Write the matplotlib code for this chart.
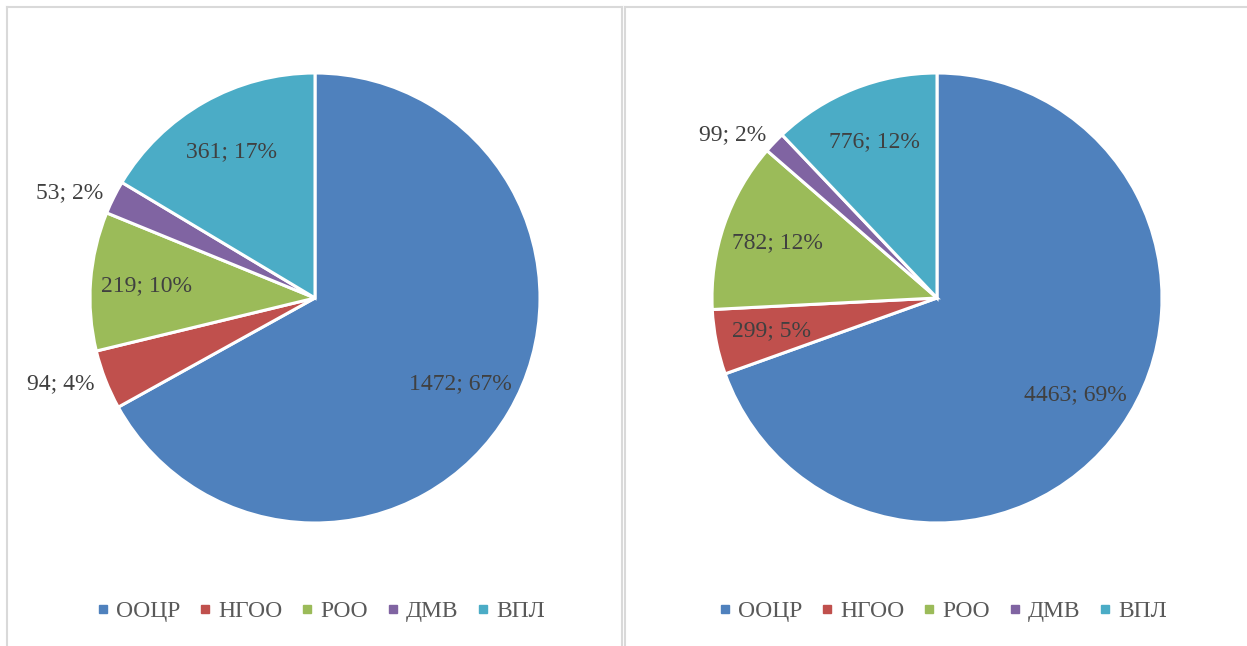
import numpy as np
import matplotlib
matplotlib.use("Agg")
import matplotlib.pyplot as plt
from matplotlib.lines import Line2D

plt.rcParams["font.family"] = ["Liberation Serif", "DejaVu Serif"]

# Data
categories = ["ООЦР", "НГОО", "РОО", "ДМВ", "ВПЛ"]
left_values = [1472, 94, 219, 53, 361]
left_pct = [67, 4, 10, 2, 17]
right_values = [4463, 299, 782, 99, 776]
right_pct = [69, 5, 12, 2, 12]

colors = ["#4F81BD", "#C0504D", "#9BBB59", "#8064A2", "#4BACC6"]
label_color = "#404040"
legend_color = "#595959"
border_color = "#D9D9D9"

W, H = 1247, 646
fig = plt.figure(figsize=(W / 100, H / 100), dpi=100)
fig.patch.set_facecolor("white")


def px_x(x):
    return x / W


def px_y(y):
    return 1 - y / H


def draw_pie(cx, cy, r, values, pct):
    ax = fig.add_axes([px_x(cx - r), px_y(cy + r), 2 * r / W, 2 * r / H])
    wedges, _ = ax.pie(
        values,
        colors=colors,
        startangle=90,
        counterclock=False,
        radius=1,
        wedgeprops=dict(edgecolor="white", linewidth=2.2),
    )
    ax.set_xlim(-1, 1)
    ax.set_ylim(-1, 1)
    ax.set_aspect("equal")
    ax.axis("off")

    total = sum(values)
    for w, v, p in zip(wedges, values, pct):
        mid = np.deg2rad((w.theta1 + w.theta2) / 2)
        if v / total >= 0.045:
            # inside label
            ax.text(0.75 * np.cos(mid), 0.75 * np.sin(mid), f"{v}; {p}%",
                    ha="center", va="center", fontsize=17, color=label_color)
        else:
            # small slice: label just outside the rim
            ha = "right" if np.cos(mid) < 0 else "left"
            ax.text(1.05 * np.cos(mid), 1.05 * np.sin(mid), f"{v}; {p}%",
                    ha=ha, va="center", fontsize=17, color=label_color)

    handles = [Line2D([0], [0], marker="s", linestyle="none", markersize=6,
                      markerfacecolor=c, markeredgecolor=c) for c in colors]
    ax.legend(handles, categories, loc="center",
              bbox_to_anchor=(px_x(cx + 6), px_y(611)),
              bbox_transform=fig.transFigure, ncol=5, frameon=False,
              fontsize=17, labelcolor=legend_color, handlelength=0.5,
              handletextpad=0.3, columnspacing=0.8, borderaxespad=0)
    return ax


draw_pie(315, 298, 225, left_values, left_pct)
draw_pie(937, 298, 225, right_values, right_pct)

# panel borders
lw = 1.5
for xs, ys in [
    ((7, 7), (7, 650)),
    ((7, 622), (7, 7)),
    ((622, 622), (7, 650)),
    ((624.5, 624.5), (7, 650)),
    ((624.5, 1250), (7, 7)),
]:
    fig.add_artist(Line2D([px_x(x) for x in xs], [px_y(y) for y in ys],
                          color=border_color, linewidth=lw))

fig.savefig("out.png", dpi=100)
